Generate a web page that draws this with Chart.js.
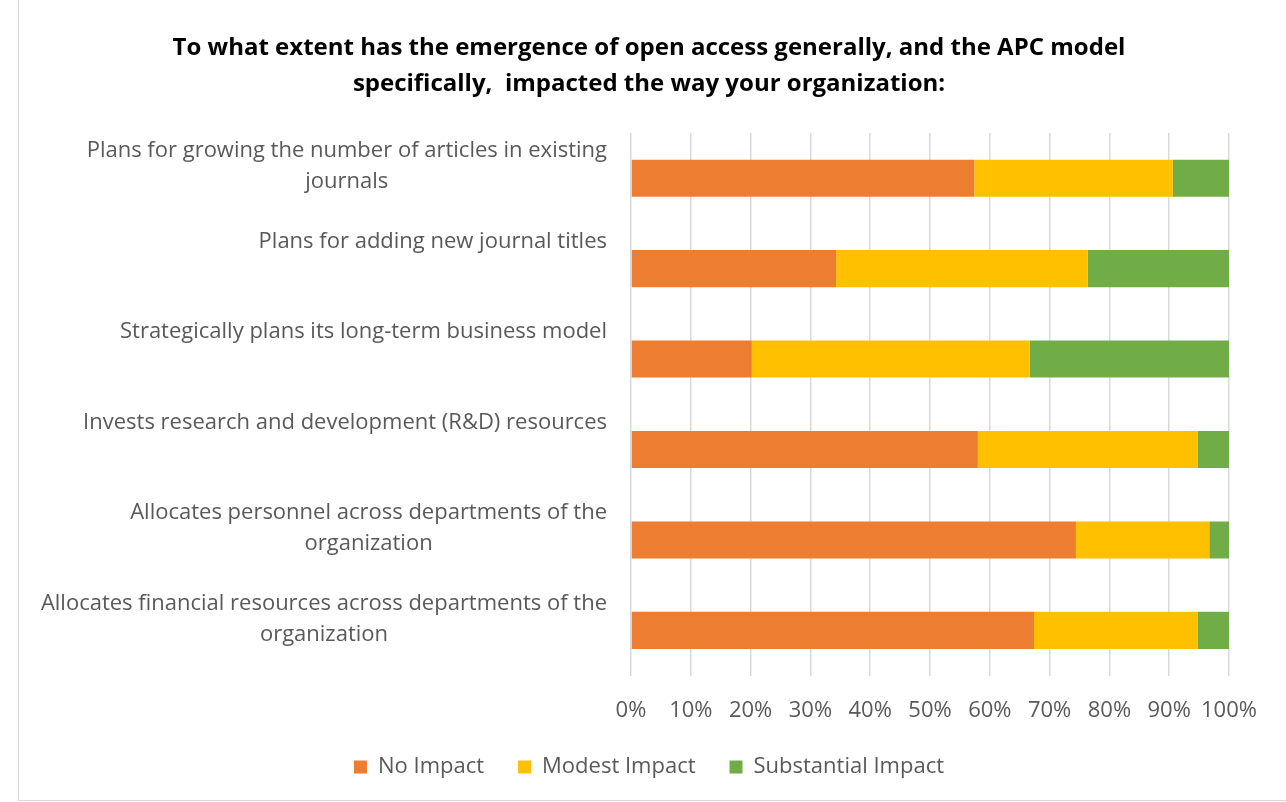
<!DOCTYPE html>
<html>
<head>
<meta charset="utf-8">
<script src="https://cdn.jsdelivr.net/npm/chart.js@4/dist/chart.umd.min.js"></script>
<style>
    body { margin: 0; background: #fff; }
    #wrap {
        position: absolute; left: 18px; top: 0;
        width: 1268px; height: 800px;
        border-left: 1px solid #d9d9d9; border-bottom: 1px solid #d9d9d9;
    }
</style>
</head>
<body>
<div id="wrap"><canvas id="myChart"></canvas></div>
<script>
// chart data
const categories = [
    ['Plans for growing the number of articles in existing', 'journals'],
    ['Plans for adding new journal titles'],
    ['Strategically plans its long-term business model'],
    ['Invests research and development (R&D) resources'],
    ['Allocates personnel across departments of the', 'organization'],
    ['Allocates financial resources across departments of the', 'organization']
]
const noImpact = [57.4, 34.3, 20.2, 58.0, 74.4, 67.4]
const modestImpact = [33.2, 42.1, 46.5, 36.8, 22.3, 27.4]
const substantialImpact = [9.4, 23.6, 33.3, 5.2, 3.3, 5.2]
const xTicks = [0, 10, 20, 30, 40, 50, 60, 70, 80, 90, 100]

const FONT = '"Open Sans", Lato, sans-serif'
Chart.defaults.font.family = FONT
Chart.defaults.color = '#595959'

// excel-like category labels: wrapped lines centred on each other, sitting above the bar
const yLabels = {
    id: 'yLabels',
    afterDraw(chart) {
        const c = chart.ctx
        const y = chart.scales.y
        const right = chart.chartArea.left - 24
        c.save()
        c.font = '22px ' + FONT
        c.fillStyle = '#595959'
        c.textAlign = 'center'
        c.textBaseline = 'middle'
        categories.forEach((lines, i) => {
            const w = Math.max(...lines.map(l => c.measureText(l).width))
            const top = y.getPixelForTick(i) - 27
            lines.forEach((l, j) => c.fillText(l, right - w / 2, top + j * 31))
        })
        c.restore()
    }
}

const ctx = document.getElementById('myChart')
const myChart = new Chart(ctx, {
    type: 'bar',
    data: {
        labels: categories.map(l => l.join(' ')),
        datasets: [
            { label: 'No Impact', data: noImpact, backgroundColor: '#ED7D31' },
            { label: 'Modest Impact', data: modestImpact, backgroundColor: '#FFC000' },
            { label: 'Substantial Impact', data: substantialImpact, backgroundColor: '#70AD47' }
        ]
    },
    options: {
        indexAxis: 'y',
        responsive: true,
        maintainAspectRatio: false,
        animation: false,
        barPercentage: 0.41,
        categoryPercentage: 1,
        layout: { padding: { left: 50, right: 58, top: 0, bottom: 12 } },
        scales: {
            x: {
                stacked: true,
                min: 0,
                max: 100,
                afterBuildTicks: (scale) => { scale.ticks = xTicks.map(v => ({ value: v })) },
                afterFit: (scale) => { scale.height = scale.height - 24 },
                ticks: {
                    callback: (v) => v + '%',
                    font: { size: 22 },
                    color: '#595959',
                    padding: 22,
                    maxRotation: 0,
                    minRotation: 0,
                    autoSkip: false
                },
                grid: { color: '#d9d9d9', lineWidth: 1.5, drawTicks: false },
                border: { display: false }
            },
            y: {
                stacked: true,
                afterFit: (scale) => { scale.width = 562 },
                ticks: { display: false },
                grid: { display: false },
                border: { display: false }
            }
        },
        plugins: {
            title: {
                display: true,
                text: [
                    'To what extent has the emergence of open access generally, and the APC model',
                    'specifically,  impacted the way your organization:'
                ],
                color: '#000',
                font: { size: 24, weight: 'bold', lineHeight: 1.5 },
                padding: { top: 30, bottom: 31 }
            },
            legend: {
                position: 'bottom',
                labels: {
                    boxWidth: 13,
                    boxHeight: 13,
                    font: { size: 22 },
                    color: '#595959',
                    padding: 34
                }
            },
            tooltip: { enabled: false }
        }
    },
    plugins: [yLabels]
})
</script>
</body>
</html>
